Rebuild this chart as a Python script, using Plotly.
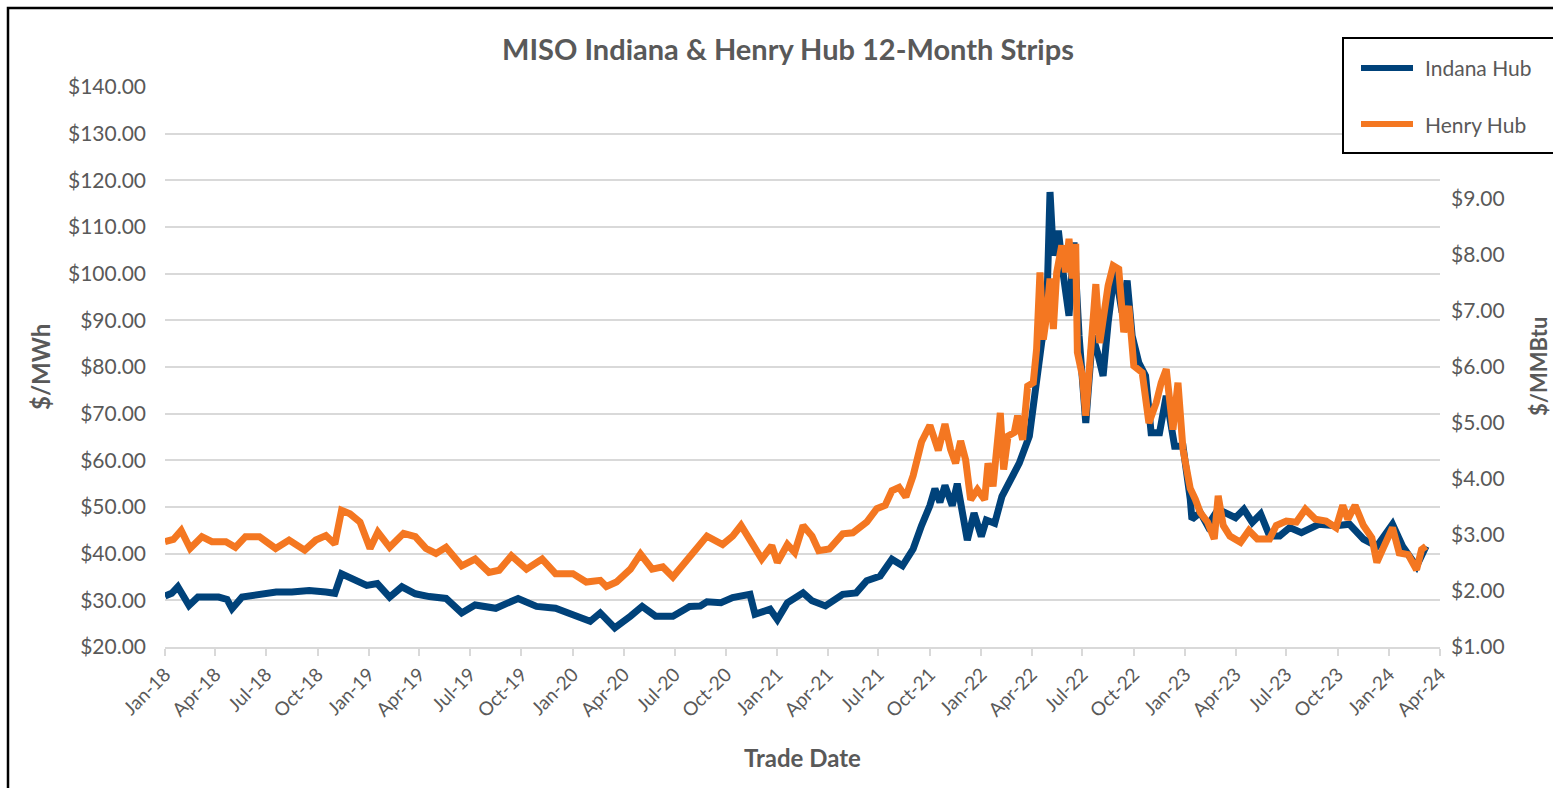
import plotly.graph_objects as go

# ---------------- data ----------------
indiana_dates = [
    "2018-01-01", "2018-01-13", "2018-01-24", "2018-02-13", "2018-03-01", "2018-04-07", "2018-04-22",
    "2018-05-01", "2018-05-19", "2018-06-19", "2018-07-19", "2018-08-16", "2018-09-16", "2018-10-16",
    "2018-11-01", "2018-11-13", "2018-12-01", "2018-12-28", "2019-01-16", "2019-02-07", "2019-03-01",
    "2019-03-25", "2019-04-19", "2019-05-19", "2019-06-16", "2019-07-10", "2019-08-16", "2019-09-25",
    "2019-10-28", "2019-12-01", "2020-01-01", "2020-02-01", "2020-02-19", "2020-03-16", "2020-04-13",
    "2020-05-04", "2020-05-28", "2020-06-28", "2020-07-28", "2020-08-16", "2020-08-28", "2020-09-22",
    "2020-10-13", "2020-11-13", "2020-11-22", "2020-12-19", "2021-01-01", "2021-01-19", "2021-02-16",
    "2021-03-04", "2021-03-28", "2021-04-28", "2021-05-22", "2021-06-10", "2021-07-04", "2021-07-25",
    "2021-08-13", "2021-09-01", "2021-09-16", "2021-10-01", "2021-10-10", "2021-10-19", "2021-10-28",
    "2021-11-10", "2021-11-19", "2021-11-28", "2021-12-07", "2021-12-19", "2022-01-01", "2022-01-10",
    "2022-01-25", "2022-02-07", "2022-02-22", "2022-03-10", "2022-03-28", "2022-04-10", "2022-04-19",
    "2022-04-28", "2022-05-04", "2022-05-10", "2022-05-19", "2022-05-28", "2022-06-07", "2022-06-16",
    "2022-06-25", "2022-07-07", "2022-07-19", "2022-07-28", "2022-08-07", "2022-08-16", "2022-08-28",
    "2022-09-10", "2022-09-19", "2022-09-28", "2022-10-10", "2022-10-22", "2022-11-01", "2022-11-16",
    "2022-11-28", "2022-12-13", "2022-12-28", "2023-01-10", "2023-01-13", "2023-01-28", "2023-02-10",
    "2023-03-01", "2023-04-01", "2023-04-16", "2023-05-01", "2023-05-16", "2023-06-01", "2023-06-19",
    "2023-07-07", "2023-07-28", "2023-08-28", "2023-09-28", "2023-10-22", "2023-11-16", "2023-12-10",
    "2024-01-07", "2024-01-25", "2024-02-19", "2024-03-07",
]
indiana_values = [
    30.9, 31.5, 32.9, 28.9, 30.7, 30.7, 30.2,
    28.2, 30.7, 31.4, 31.8, 31.8, 32.1, 31.8,
    31.5, 35.7, 34.6, 33.2, 33.6, 30.7, 32.9,
    31.4, 30.8, 30.4, 27.3, 29.0, 28.3, 30.4,
    28.7, 28.3, 26.9, 25.5, 27.3, 24.1, 26.6,
    28.7, 26.6, 26.6, 28.7, 28.8, 29.7, 29.5,
    30.6, 31.3, 27.0, 28.1, 25.9, 29.5, 31.6,
    29.9, 28.8, 31.3, 31.6, 34.2, 35.2, 38.8,
    37.4, 41.0, 46.0, 50.3, 53.9, 51.0, 54.6,
    50.3, 55.0, 48.7, 42.9, 48.7, 43.7, 47.2,
    46.5, 52.3, 55.8, 59.4, 65.2, 78.1, 85.2,
    91.7, 117.5, 103.9, 109.2, 99.6, 91.0, 106.7,
    86.7, 68.0, 86.7, 83.1, 78.1, 89.5, 101.0,
    91.7, 98.5, 86.7, 80.9, 78.1, 65.9, 65.9,
    73.8, 63.0, 63.0, 51.7, 47.4, 48.8, 46.0,
    49.5, 47.7, 49.5, 46.7, 48.5, 43.8, 43.8,
    45.6, 44.5, 46.3, 46.0, 46.3, 43.1, 41.6,
    46.3, 41.6, 37.3, 41.6,
]

henry_dates = [
    "2018-01-01", "2018-01-16", "2018-01-30", "2018-02-15", "2018-03-08", "2018-03-26", "2018-04-20",
    "2018-05-07", "2018-05-25", "2018-06-19", "2018-07-18", "2018-08-11", "2018-09-08", "2018-09-28",
    "2018-10-16", "2018-11-01", "2018-11-13", "2018-11-28", "2018-12-16", "2019-01-03", "2019-01-17",
    "2019-02-07", "2019-03-04", "2019-03-25", "2019-04-13", "2019-05-01", "2019-05-19", "2019-06-16",
    "2019-07-10", "2019-08-04", "2019-08-22", "2019-09-13", "2019-10-10", "2019-11-07", "2019-12-01",
    "2020-01-01", "2020-01-25", "2020-02-19", "2020-03-01", "2020-03-19", "2020-04-13", "2020-05-01",
    "2020-05-22", "2020-06-10", "2020-06-28", "2020-07-16", "2020-08-04", "2020-08-28", "2020-09-25",
    "2020-10-13", "2020-10-28", "2020-11-13", "2020-12-04", "2020-12-22", "2021-01-01", "2021-01-19",
    "2021-02-01", "2021-02-16", "2021-03-04", "2021-03-16", "2021-04-04", "2021-04-28", "2021-05-16",
    "2021-06-10", "2021-06-28", "2021-07-13", "2021-07-25", "2021-08-07", "2021-08-19", "2021-09-01",
    "2021-09-16", "2021-10-01", "2021-10-16", "2021-10-28", "2021-11-07", "2021-11-16", "2021-11-25",
    "2021-12-04", "2021-12-13", "2021-12-25", "2022-01-07", "2022-01-13", "2022-01-22", "2022-02-04",
    "2022-02-10", "2022-02-18", "2022-03-01", "2022-03-07", "2022-03-16", "2022-03-25", "2022-04-04",
    "2022-04-10", "2022-04-16", "2022-04-22", "2022-04-28", "2022-05-04", "2022-05-10", "2022-05-16",
    "2022-05-25", "2022-06-01", "2022-06-07", "2022-06-13", "2022-06-19", "2022-06-22", "2022-07-01",
    "2022-07-07", "2022-07-16", "2022-07-25", "2022-08-01", "2022-08-10", "2022-08-16", "2022-08-25",
    "2022-09-04", "2022-09-13", "2022-09-22", "2022-10-01", "2022-10-16", "2022-10-28", "2022-11-10",
    "2022-11-19", "2022-11-28", "2022-12-10", "2022-12-19", "2022-12-28", "2023-01-10", "2023-01-19",
    "2023-01-28", "2023-02-10", "2023-02-22", "2023-03-01", "2023-03-10", "2023-03-22", "2023-04-10",
    "2023-04-25", "2023-05-10", "2023-06-01", "2023-06-13", "2023-07-01", "2023-07-19", "2023-08-04",
    "2023-08-22", "2023-09-10", "2023-09-28", "2023-10-10", "2023-10-19", "2023-11-01", "2023-11-16",
    "2023-12-01", "2023-12-10", "2023-12-22", "2024-01-07", "2024-01-19", "2024-02-04", "2024-02-19",
    "2024-02-28", "2024-03-07",
]
henry_values = [
    2.88, 2.92, 3.08, 2.76, 2.97, 2.88, 2.88,
    2.78, 2.97, 2.97, 2.76, 2.91, 2.73, 2.91,
    2.99, 2.84, 3.44, 3.38, 3.23, 2.76, 3.05,
    2.78, 3.03, 2.97, 2.76, 2.67, 2.78, 2.45,
    2.57, 2.33, 2.37, 2.63, 2.39, 2.57, 2.31,
    2.31, 2.16, 2.19, 2.08, 2.16, 2.39, 2.66,
    2.39, 2.43, 2.25, 2.48, 2.72, 2.98, 2.83,
    2.98, 3.17, 2.93, 2.57, 2.81, 2.51, 2.83,
    2.69, 3.17, 2.98, 2.72, 2.75, 3.02, 3.04,
    3.23, 3.47, 3.53, 3.79, 3.85, 3.68, 4.06,
    4.66, 4.96, 4.51, 4.98, 4.53, 4.28, 4.68,
    4.34, 3.63, 3.81, 3.63, 4.28, 3.87, 5.18,
    4.17, 4.77, 4.83, 5.13, 4.70, 5.66, 5.72,
    6.32, 7.69, 6.49, 6.92, 7.58, 6.68, 7.69,
    8.17, 7.69, 8.29, 7.58, 8.20, 6.26, 5.84,
    5.13, 6.20, 7.48, 6.43, 7.09, 7.45, 7.81,
    7.75, 6.62, 7.09, 6.02, 5.90, 5.00, 5.36,
    5.72, 5.96, 4.88, 5.72, 4.53, 3.83, 3.64,
    3.40, 3.23, 2.93, 3.70, 3.17, 2.98, 2.87,
    3.08, 2.93, 2.93, 3.17, 3.25, 3.23, 3.46,
    3.28, 3.25, 3.13, 3.53, 3.28, 3.53, 3.17,
    2.95, 2.51, 2.78, 3.13, 2.68, 2.65, 2.38,
    2.74, 2.80,
]

x_tick_dates = [
    "2018-01-01", "2018-04-01", "2018-07-01", "2018-10-01",
    "2019-01-01", "2019-04-01", "2019-07-01", "2019-10-01",
    "2020-01-01", "2020-04-01", "2020-07-01", "2020-10-01",
    "2021-01-01", "2021-04-01", "2021-07-01", "2021-10-01",
    "2022-01-01", "2022-04-01", "2022-07-01", "2022-10-01",
    "2023-01-01", "2023-04-01", "2023-07-01", "2023-10-01",
    "2024-01-01", "2024-04-01",
]
x_tick_labels = [
    "Jan-18", "Apr-18", "Jul-18", "Oct-18", "Jan-19", "Apr-19", "Jul-19", "Oct-19",
    "Jan-20", "Apr-20", "Jul-20", "Oct-20", "Jan-21", "Apr-21", "Jul-21", "Oct-21",
    "Jan-22", "Apr-22", "Jul-22", "Oct-22", "Jan-23", "Apr-23", "Jul-23", "Oct-23",
    "Jan-24", "Apr-24",
]
left_ticks = [20, 30, 40, 50, 60, 70, 80, 90, 100, 110, 120, 130, 140]
right_ticks = [1, 2, 3, 4, 5, 6, 7, 8, 9]

series_names = ["Indana Hub", "Henry Hub"]

# ---------------- style ----------------
BLUE = "#00427A"
ORANGE = "#F47721"
GREY_TXT = "#595959"
GRID = "#D9D9D9"
FONT = "Lato"

W, H = 1553, 788
L, R, T, B = 165, 1440, 87, 647  # plot area in pixels
pw, ph = R - L, B - T


def px_x(p):
    return (p - L) / pw


def px_y(p):
    return (B - p) / ph


fig = go.Figure()
fig.add_trace(go.Scatter(x=indiana_dates, y=indiana_values, name=series_names[0],
                         mode="lines", line=dict(color=BLUE, width=7), yaxis="y"))
fig.add_trace(go.Scatter(x=henry_dates, y=henry_values, name=series_names[1],
                         mode="lines", line=dict(color=ORANGE, width=7), yaxis="y2"))

shapes = [
    # chart outer border
    dict(type="rect", xref="paper", yref="paper", x0=px_x(8), x1=px_x(1600), y0=px_y(830), y1=px_y(8),
         line=dict(color="black", width=2.5), fillcolor="rgba(0,0,0,0)", layer="above"),
    # legend box
    dict(type="rect", xref="paper", yref="paper", x0=px_x(1343), x1=px_x(1600), y0=px_y(153), y1=px_y(38),
         line=dict(color="black", width=2), fillcolor="white", layer="above"),
    dict(type="line", xref="paper", yref="paper", x0=px_x(1361), x1=px_x(1413), y0=px_y(68), y1=px_y(68),
         line=dict(color=BLUE, width=6), layer="above"),
    dict(type="line", xref="paper", yref="paper", x0=px_x(1361), x1=px_x(1413), y0=px_y(124), y1=px_y(124),
         line=dict(color=ORANGE, width=6), layer="above"),
]

annotations = [
    dict(text=series_names[0], xref="paper", yref="paper", x=px_x(1423), y=px_y(68), xanchor="left",
         yanchor="middle", showarrow=False, font=dict(family=FONT, size=21, color=GREY_TXT)),
    dict(text=series_names[1], xref="paper", yref="paper", x=px_x(1423), y=px_y(124), xanchor="left",
         yanchor="middle", showarrow=False, font=dict(family=FONT, size=21, color=GREY_TXT)),
    dict(text="<b>Trade Date</b>", xref="paper", yref="paper", x=px_x(802), y=px_y(757),
         xanchor="center", yanchor="middle", showarrow=False, font=dict(family=FONT, size=24, color=GREY_TXT)),
    dict(text="<b>$/MWh</b>", xref="paper", yref="paper", x=px_x(40), y=px_y(367), textangle=-90,
         xanchor="center", yanchor="middle", showarrow=False, font=dict(family=FONT, size=24, color=GREY_TXT)),
    dict(text="<b>$/MMBtu</b>", xref="paper", yref="paper", x=px_x(1538), y=px_y(367), textangle=-90,
         xanchor="center", yanchor="middle", showarrow=False, font=dict(family=FONT, size=22, color=GREY_TXT)),
]

fig.update_layout(
    width=W, height=H,
    margin=dict(l=L, r=W - R, t=T, b=H - B, pad=0),
    paper_bgcolor="white", plot_bgcolor="white",
    showlegend=False,
    title=dict(text="<b>MISO Indiana &amp; Henry Hub 12-Month Strips</b>", xref="container", yref="container",
               x=788 / W, y=1 - 50 / H, xanchor="center", yanchor="middle",
               font=dict(family=FONT, size=29, color=GREY_TXT)),
    xaxis=dict(type="date", range=["2018-01-01", "2024-04-01"], tickvals=x_tick_dates, ticktext=x_tick_labels,
               tickangle=-45, showgrid=False, showline=True, linecolor=GRID, linewidth=2,
               ticks="outside", ticklen=7, tickcolor=GRID, tickwidth=1.5,
               tickfont=dict(family=FONT, size=19, color=GREY_TXT), zeroline=False),
    yaxis=dict(range=[20, 140], tickvals=left_ticks, tickformat="$.2f", showgrid=True, gridcolor=GRID,
               gridwidth=2, zeroline=False, showline=False, ticks="", ticklabelstandoff=18,
               tickfont=dict(family=FONT, size=21, color=GREY_TXT)),
    yaxis2=dict(range=[1, 11], tickvals=right_ticks, tickformat="$.2f", overlaying="y", side="right",
                showgrid=False, zeroline=False, showline=False, ticks="", ticklabelstandoff=10,
                tickfont=dict(family=FONT, size=21, color=GREY_TXT)),
    shapes=shapes,
    annotations=annotations,
)

fig.write_html("out.html", config={"displayModeBar": False},
               post_script="document.body.style.margin='0';")
